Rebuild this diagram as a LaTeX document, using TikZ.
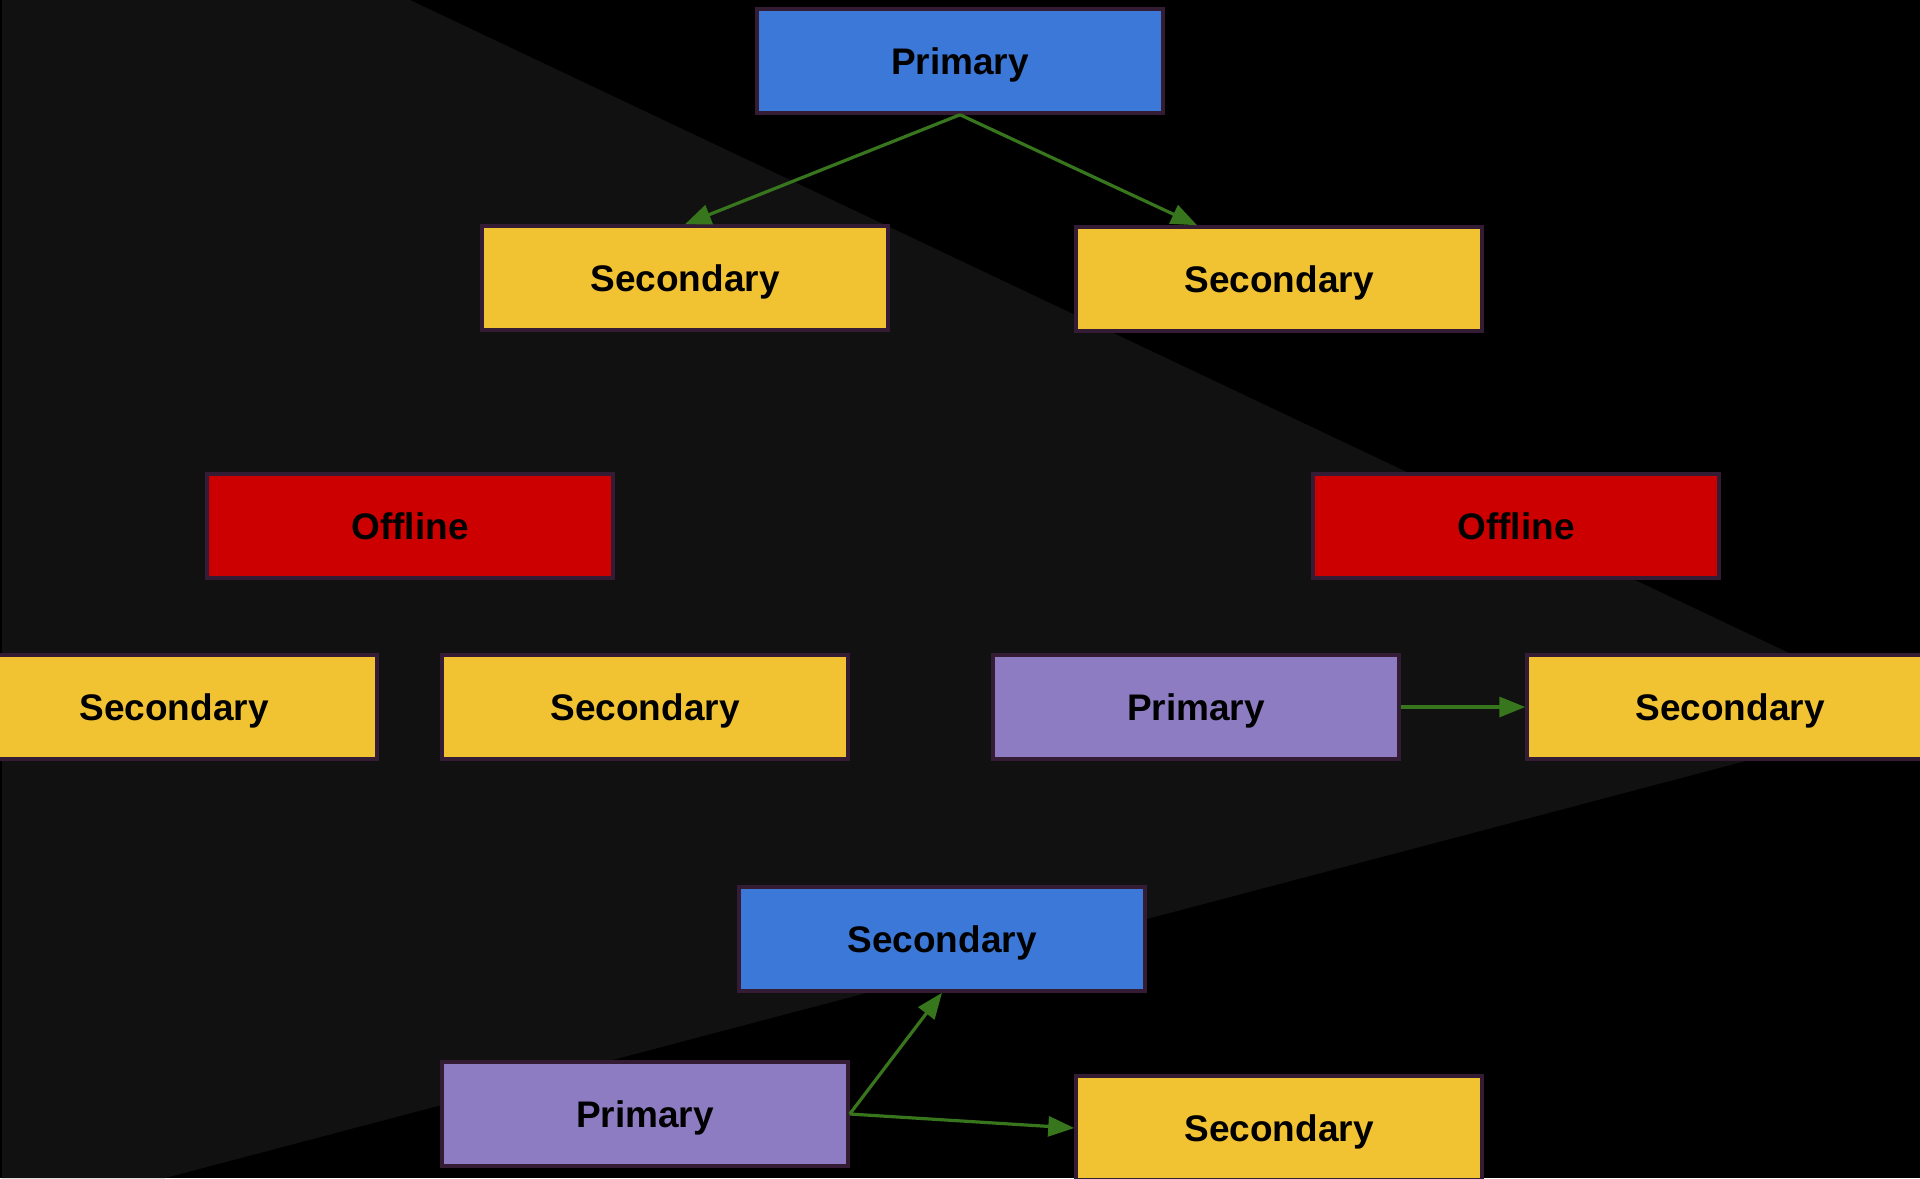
\documentclass[tikz,border=0pt]{standalone}
\usepackage{fontspec}
\setmainfont{Liberation Sans}
\usepackage{tikz}
\usetikzlibrary{arrows.meta,calc}
\definecolor{bggray}{HTML}{111111}
\definecolor{nodeblue}{HTML}{3C78D8}
\definecolor{nodeyellow}{HTML}{F1C232}
\definecolor{nodered}{HTML}{CC0000}
\definecolor{nodepurple}{HTML}{8E7CC3}
\definecolor{nodeedge}{HTML}{351C35}
\definecolor{linkgreen}{HTML}{38761D}

\begin{document}
\begin{tikzpicture}[x=0.5pt,y=-0.5pt,
  every node/.style={font=\fontsize{18.5}{22}\selectfont\bfseries},
  box/.style={draw=nodeedge,line width=1.75pt,minimum width=203pt,minimum height=52pt,
    text height=13.4pt,text depth=0pt,text=black},
  link/.style={draw=linkgreen,line width=1.6pt,-{Triangle[length=13pt,width=10pt]}}]
  \useasboundingbox (0,0) rectangle (1920,1178);
  \fill[black] (0,0) rectangle (1920,1178);
  \fill[bggray] (2,0) -- (410,0) -- (1920,715) -- (165,1178) -- (2,1178) -- cycle;
  % top group
  \node[box,fill=nodeblue] (p1) at (960,61) {Primary};
  \node[box,fill=nodeyellow] (s1) at (685,278) {Secondary};
  \node[box,fill=nodeyellow] (s2) at (1279,279) {Secondary};
  % middle group
  \node[box,fill=nodered] (off1) at (410,526) {Offline};
  \node[box,fill=nodered] (off2) at (1516,526) {Offline};
  \node[box,fill=nodeyellow] (s3) at (174,707) {Secondary};
  \node[box,fill=nodeyellow] (s4) at (645,707) {Secondary};
  \node[box,fill=nodepurple] (p2) at (1196,707) {Primary};
  \node[box,fill=nodeyellow] (s5) at (1730,707) {Secondary};
  % bottom group
  \node[box,fill=nodeblue] (s6) at (942,939) {Secondary};
  \node[box,fill=nodepurple] (p3) at (645,1114) {Primary};
  \node[box,fill=nodeyellow] (s7) at (1279,1128) {Secondary};
  \draw[link] (p1.south) -- (s1.north);
  \draw[link] (p1.south) -- ($(s2.north west)!0.3!(s2.north east)$);
  \draw[link] (p2.east) -- (s5.west);
  \draw[link] (p3.east) -- (s6.south);
  \draw[link] (p3.east) -- (s7.west);
\end{tikzpicture}
\end{document}
